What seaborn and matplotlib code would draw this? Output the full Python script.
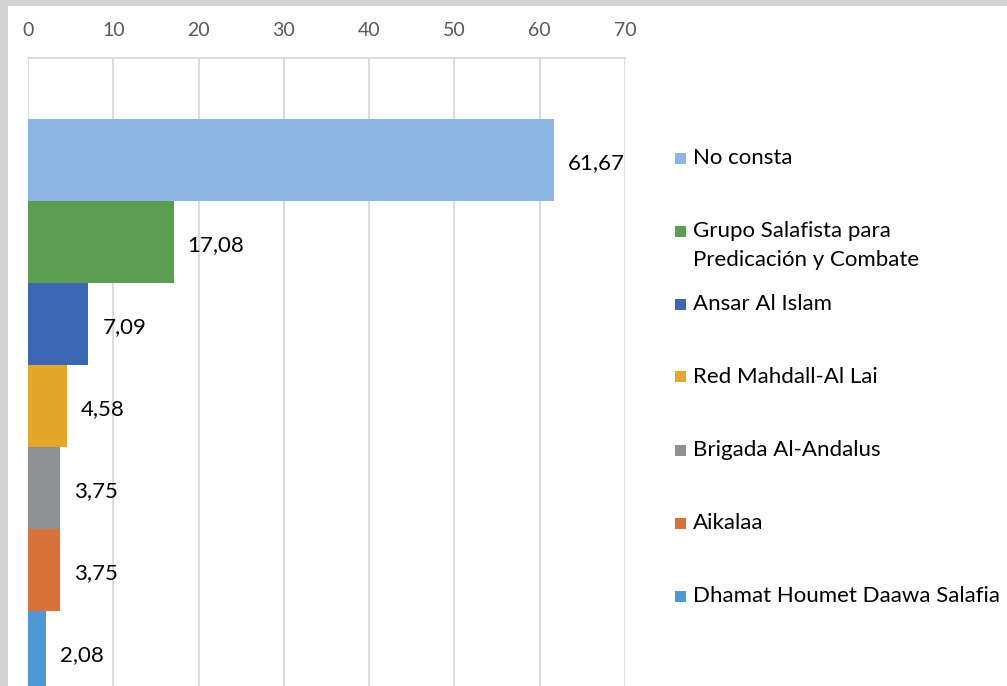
import matplotlib
matplotlib.use("Agg")
import matplotlib.pyplot as plt
import matplotlib.patches as mpatches
import seaborn as sns
import pandas as pd

groups = ["No consta", "Grupo Salafista para\nPredicación y Combate", "Ansar Al Islam",
          "Red Mahdall-Al Lai", "Brigada Al-Andalus", "Aikalaa", "Dhamat Houmet Daawa Salafia"]
values = [61.67, 17.08, 7.09, 4.58, 3.75, 3.75, 2.08]
value_labels = ["61,67", "17,08", "7,09", "4,58", "3,75", "3,75", "2,08"]
colors = ["#8db4e2", "#5c9e51", "#3a66b4", "#e3a82b", "#8e9194", "#d9723a", "#4e98d3"]
x_ticks = [0, 10, 20, 30, 40, 50, 60, 70]

sns.set_theme(style="white")
FONT = ["Lato", "DejaVu Sans"]
plt.rcParams["font.family"] = FONT

W, H = 1007, 686
fig = plt.figure(figsize=(W / 100, H / 100), dpi=100)
fig.patch.set_facecolor("#d2d3d5")
fig.patches.append(mpatches.Rectangle((8 / W, 0), 1, 1 - 6 / H, transform=fig.transFigure,
                                      facecolor="white", edgecolor="none", zorder=-10))

ax = fig.add_axes([28 / W, 0, (625 - 28) / W, 1 - 58 / H])
ax.set_facecolor("none")
df = pd.DataFrame({"group": groups, "value": values})
sns.barplot(data=df, x="value", y="group", hue="group", palette=colors, width=1,
            orient="h", legend=False, saturation=1, ax=ax, linewidth=0)

ax.set_xlim(0, 70)
ax.set_ylim(6.415, -1.244)
ax.set_xticks(x_ticks)
ax.xaxis.tick_top()
ax.tick_params(axis="x", length=0, pad=13.5, labelsize=14, labelcolor="#595959")
ax.set_yticks([])
ax.set_xlabel("")
ax.set_ylabel("")
ax.grid(axis="x", color="#d9d9d9", linewidth=1.3)
ax.set_axisbelow(True)
for s in ["left", "right", "bottom"]:
    ax.spines[s].set_visible(False)
ax.spines["top"].set_color("#d9d9d9")
ax.spines["top"].set_linewidth(1.3)

for i, (v, lab) in enumerate(zip(values, value_labels)):
    ax.annotate(lab, xy=(v, i), xytext=(10, -2), textcoords="offset points",
                ha="left", va="center", fontsize=16, color="black")

# legend
leg_x_marker = 675 / W
leg_x_text = 693 / W
row_top = 158
row_step = 73
line_step = 29
ms = 11
for i, (g, c) in enumerate(zip(groups, colors)):
    ypix = row_top + i * row_step
    fig.patches.append(mpatches.Rectangle((leg_x_marker, 1 - (ypix + ms / 2) / H), ms / W, ms / H,
                                          transform=fig.transFigure, facecolor=c, edgecolor="none"))
    for j, line in enumerate(g.split("\n")):
        fig.text(leg_x_text, 1 - (ypix + j * line_step) / H, line, ha="left", va="center",
                 fontsize=16, color="black")

fig.savefig("out.png", dpi=100, facecolor=fig.get_facecolor())
